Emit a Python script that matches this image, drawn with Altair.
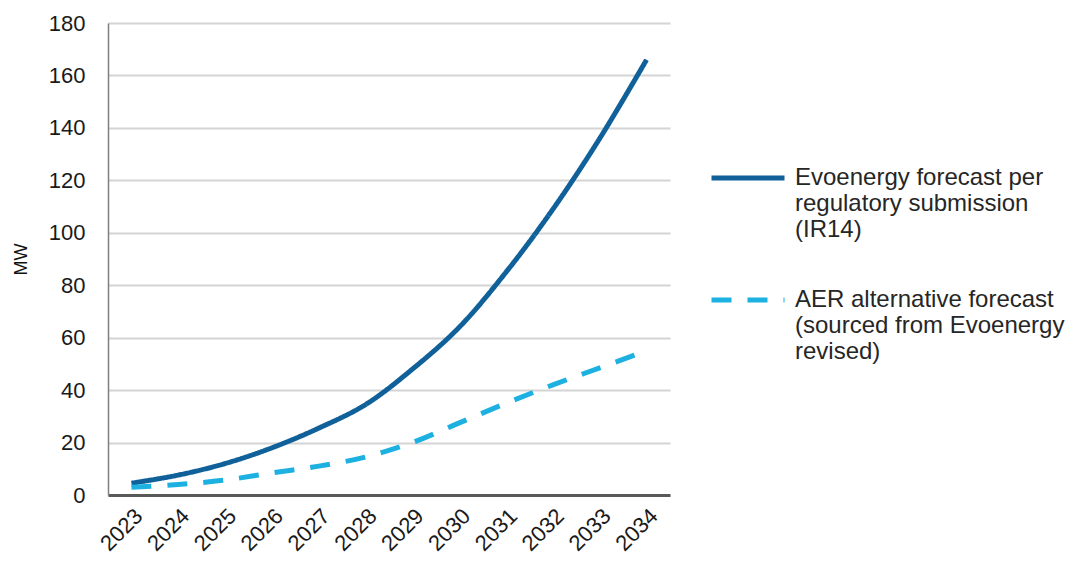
import altair as alt
import pandas as pd

# Forecast years and the two maximum-demand series (MW)
years = [str(y) for y in range(2023, 2035)]
evoenergy_mw = [4.5, 7.6, 12, 18, 25.5, 34.5, 48, 64, 85, 109, 136, 166]
aer_mw = [3, 4, 5.7, 8.4, 11, 14.5, 20, 27.5, 35, 42, 48.5, 55]

series_names = [
    "Evoenergy forecast per|regulatory submission|(IR14)",
    "AER alternative forecast|(sourced from Evoenergy|revised)",
]
series_colors = ["#10609a", "#1cb1e0"]
series_dashes = [[1, 0], [20, 16]]

rows = []
for name, values in zip(series_names, [evoenergy_mw, aer_mw]):
    for year, value in zip(years, values):
        rows.append({"year": year, "MW": value, "series": name})
df = pd.DataFrame(rows)

FONT = "Liberation Sans"

# Shared legend styling for the merged colour / dash legend
legend_style = dict(
    title=None,
    orient="none",
    legendX=601,
    legendY=116,
    symbolType="stroke",
    symbolSize=5329,
    symbolStrokeWidth=5,
    labelExpr="split(datum.label, '|')",
    labelFontSize=24,
    labelFont=FONT,
    labelColor="#262626",
    labelOffset=8,
    labelLimit=400,
    rowPadding=19,
)

chart = (
    alt.Chart(df)
    .mark_line(strokeWidth=5, interpolate="catmull-rom")
    .encode(
        x=alt.X(
            "year:O",
            sort=years,
            title=None,
            axis=alt.Axis(
                labelAngle=315,
                labelAlign="right",
                labelBaseline="top",
                labelPadding=10,
                labelFontSize=22,
                ticks=False,
                grid=False,
                domainColor="#595959",
                domainWidth=3,
            ),
        ),
        y=alt.Y(
            "MW:Q",
            title="MW",
            scale=alt.Scale(domain=[0, 180]),
            axis=alt.Axis(
                values=list(range(0, 181, 20)),
                ticks=False,
                grid=True,
                gridColor="#d4d4d4",
                gridWidth=2,
                domainColor="#7f7f7f",
                domainWidth=1.5,
                labelPadding=23,
                labelFontSize=22,
                titlePadding=18,
                titleFontSize=18,
                titleFontWeight="normal",
                titleColor="#111111",
            ),
        ),
        color=alt.Color(
            "series:N",
            sort=series_names,
            scale=alt.Scale(domain=series_names, range=series_colors),
            legend=alt.Legend(**legend_style),
        ),
        strokeDash=alt.StrokeDash(
            "series:N",
            sort=series_names,
            scale=alt.Scale(domain=series_names, range=series_dashes),
            legend=alt.Legend(**legend_style),
        ),
    )
    .properties(
        width=562,
        height=472,
        autosize=alt.AutoSizeParams(type="none"),
        padding={"left": 108, "top": 23, "right": 415, "bottom": 73},
    )
    .configure_view(stroke=None)
    .configure_axis(
        labelFont=FONT,
        labelColor="#1a1a1a",
        titleFont=FONT,
    )
)

chart.save("out.html", embed_options={"renderer": "svg", "actions": False})
